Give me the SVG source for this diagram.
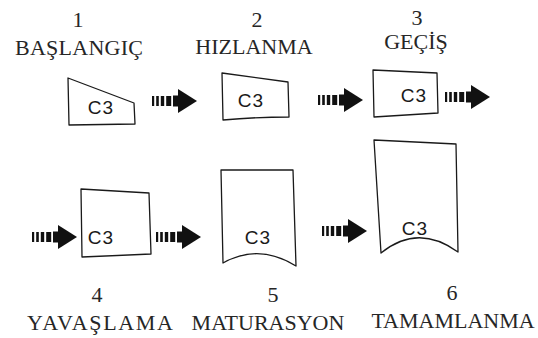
<svg xmlns="http://www.w3.org/2000/svg" width="538" height="338" viewBox="0 0 538 338">
<defs>
<style>
.box{fill:#fff;stroke:#1a1a1a;stroke-width:1.3;stroke-linejoin:round}
.c3{font-family:"Liberation Sans",Arial,sans-serif;font-size:19px;letter-spacing:1px;fill:#1a1a1a;text-anchor:middle}
.num,.lbl{font-family:"Liberation Serif","Times New Roman",serif;font-size:22px;fill:#262626;text-anchor:middle}
</style>
<g id="arr">
<rect x="0" y="-5" width="2.2" height="10" fill="#111"/>
<rect x="4.2" y="-5" width="2.6" height="10" fill="#111"/>
<rect x="8.8" y="-5" width="3.4" height="10" fill="#111"/>
<rect x="14.2" y="-5" width="5" height="10" fill="#111"/>
<rect x="21" y="-5.5" width="6" height="11" fill="#111"/>
<polygon points="26,-12 45,0 26,12" fill="#111"/>
</g>
</defs>
<rect width="538" height="338" fill="#fff"/>

<g id="connectors">
<use href="#arr" x="152" y="101"/>
<use href="#arr" x="318" y="100"/>
<use href="#arr" x="445" y="97"/>
<use href="#arr" x="32" y="237"/>
<use href="#arr" x="156" y="237"/>
<use href="#arr" x="322" y="231"/>
</g>

<g id="node1">
<text class="num" x="78" y="27">1</text>
<text class="lbl" x="79" y="55" textLength="128" lengthAdjust="spacing">BAŞLANGIÇ</text>
<polygon class="box" points="68,78 134,103 135,124 69,125"/>
<text class="c3" x="101" y="114">C3</text>
</g>

<g id="node2">
<text class="num" x="257" y="27">2</text>
<text class="lbl" x="254" y="54">HIZLANMA</text>
<path class="box" d="M222,73 L288,82 L289,117 Q256,117 223,120 Z"/>
<text class="c3" x="251" y="107">C3</text>
</g>

<g id="node3">
<text class="num" x="417" y="25">3</text>
<text class="lbl" x="416" y="49">GEÇİŞ</text>
<polygon class="box" points="373,70 437,73 438,113 374,117"/>
<text class="c3" x="414" y="102">C3</text>
</g>

<g id="node4">
<polygon class="box" points="81,189 149,193 151,254 82,257"/>
<text class="c3" x="101" y="244">C3</text>
<text class="num" x="97" y="302">4</text>
<text class="lbl" x="100" y="330" textLength="146" lengthAdjust="spacing">YAVAŞLAMA</text>
</g>

<g id="node5">
<path class="box" d="M221,170 L293,170 L296,266 Q259,243 223,263 Z"/>
<text class="c3" x="258" y="244">C3</text>
<text class="num" x="273" y="302">5</text>
<text class="lbl" x="268" y="330">MATURASYON</text>
</g>

<g id="node6">
<path class="box" d="M374,140 L456,144 L458,252 Q418,223 381,253 Z"/>
<text class="c3" x="415" y="235">C3</text>
<text class="num" x="452" y="300">6</text>
<text class="lbl" x="453" y="328">TAMAMLANMA</text>
</g>
</svg>
